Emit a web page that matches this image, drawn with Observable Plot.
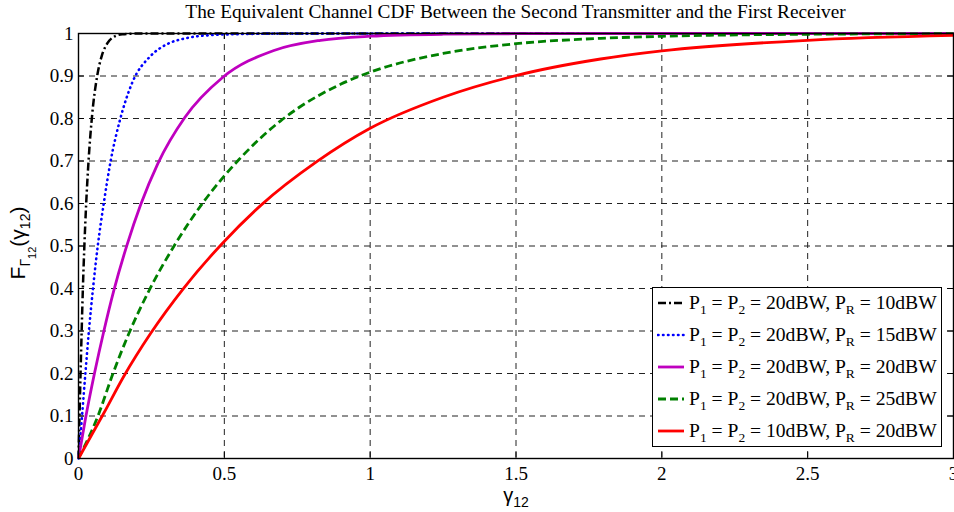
<!DOCTYPE html>
<html><head><meta charset="utf-8">
<script src="https://cdn.jsdelivr.net/npm/d3@7"></script>
<script src="https://cdn.jsdelivr.net/npm/@observablehq/plot@0.6"></script>
<style>
body{margin:0;background:#fff;}
#wrap{position:relative;width:954px;height:512px;overflow:hidden;font-family:"Liberation Serif","Times New Roman",serif;color:#000;}
#chart{position:absolute;left:0;top:0;}
#title{position:absolute;left:78px;width:875px;top:1px;text-align:center;font-size:19.3px;white-space:nowrap;}
#ylab{position:absolute;left:22px;top:243px;transform:translate(-50%,-50%) rotate(-90deg);font-family:"Liberation Sans",Arial,sans-serif;font-size:21px;white-space:nowrap;}
#ylab sub{font-size:14px;vertical-align:-0.35em;}
#ylab sub sub{font-size:11px;vertical-align:-0.5em;}
#xlab{position:absolute;left:516px;top:485px;transform:translateX(-50%);font-family:"Liberation Sans",Arial,sans-serif;font-size:20px;line-height:20px;white-space:nowrap;}
#xlab sub{font-size:14px;vertical-align:-0.35em;line-height:0;}
#legend{position:absolute;left:652px;top:287px;width:290px;height:160px;border:1.3px solid #000;background:#fff;box-sizing:border-box;}
.row{position:absolute;left:0;height:24px;white-space:nowrap;font-size:19.6px;}
.row svg{position:absolute;left:4px;top:0;}
.row span{position:absolute;left:36px;top:0;line-height:24px;}
.row sub{font-size:13.5px;vertical-align:-0.4em;line-height:0;}
</style>
</head><body>
<div id="wrap">
  <div id="chart"></div>
  <div id="title"></div>
  <div id="ylab">F<sub>Γ<sub>12</sub></sub>(γ<sub>12</sub>)</div>
  <div id="xlab">γ<sub>12</sub></div>
  <div id="legend"></div>
</div>
<script>
const titleText = "The Equivalent Channel CDF Between the Second Transmitter and the First Receiver";
const xTicks = [0, 0.5, 1, 1.5, 2, 2.5, 3];
const xTickLabels = ["0", "0.5", "1", "1.5", "2", "2.5", "3"];
const yTicks = [0, 0.1, 0.2, 0.3, 0.4, 0.5, 0.6, 0.7, 0.8, 0.9, 1];
const yTickLabels = ["0", "0.1", "0.2", "0.3", "0.4", "0.5", "0.6", "0.7", "0.8", "0.9", "1"];

// legend content: P1 = P2 value, PR value
const p12Values = ["20dBW", "20dBW", "20dBW", "20dBW", "10dBW"];
const pRValues  = ["10dBW", "15dBW", "20dBW", "25dBW", "20dBW"];

// series
const s1x = [0, 0.0035, 0.007, 0.011, 0.015, 0.020, 0.026, 0.035, 0.047, 0.064, 0.080, 0.098, 0.120, 0.150, 0.200, 3];
const s1y = [0, 0.100, 0.200, 0.304, 0.400, 0.498, 0.595, 0.706, 0.810, 0.900, 0.948, 0.976, 0.9918, 0.9982, 0.9998, 1];

const s2x = [0, 0.013, 0.024, 0.035, 0.050, 0.066, 0.087, 0.110, 0.142, 0.184, 0.247, 0.304, 0.373, 0.45, 0.55, 0.70, 3];
const s2y = [0, 0.108, 0.204, 0.295, 0.402, 0.500, 0.602, 0.699, 0.796, 0.884, 0.947, 0.975, 0.9895, 0.996, 0.9985, 0.9998, 1];

const s3x = [0, 0.024, 0.055, 0.087, 0.121, 0.167, 0.213, 0.272, 0.365, 0.493, 0.67, 0.83, 1.0, 1.25, 1.5, 2, 3];
const s3y = [0, 0.094, 0.201, 0.300, 0.395, 0.504, 0.597, 0.694, 0.803, 0.896, 0.960, 0.984, 0.9936, 0.9983, 0.9995, 1, 1];

const s4x = [0, 0.07, 0.115, 0.172, 0.241, 0.333, 0.428, 0.5, 0.551, 0.692, 0.75, 0.9, 1.0, 1.25, 1.5, 1.79, 2, 2.5, 3];
const s4y = [0, 0.106, 0.194, 0.293, 0.394, 0.506, 0.603, 0.665, 0.704, 0.794, 0.823, 0.881, 0.909, 0.953, 0.976, 0.9886, 0.9934, 0.9982, 0.9995];

const s5x = [0, 0.087, 0.155, 0.247, 0.361, 0.493, 0.624, 0.818, 1.0, 1.25, 1.5, 1.79, 2, 2.5, 3];
const s5y = [0, 0.107, 0.193, 0.294, 0.401, 0.506, 0.595, 0.699, 0.777, 0.850, 0.901, 0.940, 0.959, 0.984, 0.9955];

const seriesX = [s1x, s2x, s3x, s4x, s5x];
const seriesY = [s1y, s2y, s3y, s4y, s5y];

const styles = [
  {stroke: "#000000", strokeWidth: 2.5, dash: "8,3,2,3", cap: "butt"},
  {stroke: "#0000ff", strokeWidth: 2.6, dash: "0.5,4.5", cap: "round"},
  {stroke: "#bf00bf", strokeWidth: 2.8, dash: null, cap: "butt"},
  {stroke: "#008000", strokeWidth: 2.8, dash: "8,4", cap: "butt"},
  {stroke: "#ff0000", strokeWidth: 2.8, dash: null, cap: "butt"}
];

document.getElementById("title").textContent = titleText;

const lineMarks = seriesX.map((xs, i) => {
  const data = xs.map((x, j) => ({x, y: seriesY[i][j]}));
  const st = styles[i];
  return Plot.line(data, {x: "x", y: "y", stroke: st.stroke, strokeWidth: st.strokeWidth,
    strokeDasharray: st.dash || undefined, strokeLinecap: st.cap, curve: "monotone-x", strokeLinejoin: "round"});
});

const xLab = new Map(xTicks.map((d, i) => [d, xTickLabels[i]]));
const yLab = new Map(yTicks.map((d, i) => [d, yTickLabels[i]]));
const gridDash = "6,5";

const plot = Plot.plot({
  width: 954, height: 512,
  marginLeft: 78, marginRight: 1, marginTop: 33, marginBottom: 54,
  x: {domain: [0, 3]},
  y: {domain: [0, 1]},
  style: {fontFamily: "'Liberation Serif','Times New Roman',serif", fontSize: "19px", background: "transparent", overflow: "visible"},
  marks: [
    Plot.ruleX(xTicks.slice(1, -1), {stroke: "#222", strokeWidth: 1, strokeDasharray: gridDash}),
    Plot.ruleY(yTicks.slice(1, -1), {stroke: "#222", strokeWidth: 1, strokeDasharray: gridDash}),
    Plot.ruleX(xTicks, {y1: 0, y2: 0.014, stroke: "#000", strokeWidth: 1}),
    Plot.ruleX(xTicks, {y1: 0.986, y2: 1, stroke: "#000", strokeWidth: 1}),
    Plot.ruleY(yTicks, {x1: 0, x2: 0.02, stroke: "#000", strokeWidth: 1}),
    Plot.ruleY(yTicks, {x1: 2.98, x2: 3, stroke: "#000", strokeWidth: 1}),
    ...lineMarks,
    Plot.frame({stroke: "#000", strokeWidth: 1.4}),
    Plot.axisX(xTicks, {tickSize: 0, tickPadding: 8, tickFormat: d => xLab.get(d), label: null, fontSize: 19}),
    Plot.axisY(yTicks, {tickSize: 0, tickPadding: 5, tickFormat: d => yLab.get(d), label: null, fontSize: 19})
  ]
});
document.getElementById("chart").appendChild(plot);

// legend
const legend = document.getElementById("legend");
styles.forEach((st, i) => {
  const row = document.createElement("div");
  row.className = "row";
  row.style.top = (3 + 32 * i) + "px";
  const dash = st.dash ? ` stroke-dasharray="${st.dash}"` : "";
  row.innerHTML = `<svg width="28" height="24"><line x1="1" x2="27" y1="12" y2="12" stroke="${st.stroke}" stroke-width="${st.strokeWidth}" stroke-linecap="${st.cap}"${dash}/></svg>` +
    `<span>P<sub>1</sub> = P<sub>2</sub> = ${p12Values[i]}, P<sub>R</sub> = ${pRValues[i]}</span>`;
  legend.appendChild(row);
});
</script>
</body></html>
